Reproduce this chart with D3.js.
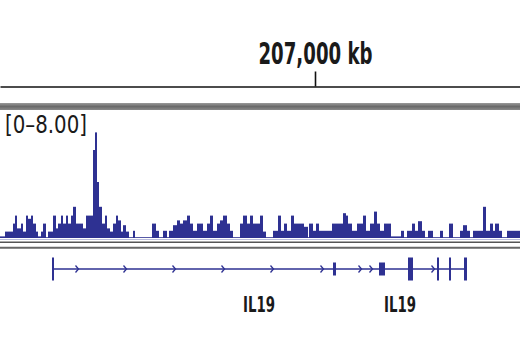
<!DOCTYPE html>
<html>
<head>
<meta charset="utf-8">
<script src="https://cdn.jsdelivr.net/npm/d3@7"></script>
<style>
  body { margin: 0; background: #fff; }
  svg { display: block; }
</style>
</head>
<body>
<svg id="chart"></svg>
<script>
// visible locus (kb on chr1)
const viewRange = [206968.5, 207020.5];
const rulerTicks = [207000];
const dataRange = [0, 8];

// coverage track as bedgraph segments: end position (kb) and signal value
const segEnds = [
  206969.0, 206969.8, 206970.0, 206970.2, 206970.6, 206970.8, 206971.1, 206971.3, 206971.6, 206971.8,
  206972.1, 206972.3, 206972.6, 206972.8, 206973.1, 206973.3, 206973.8, 206974.1, 206974.3, 206974.6,
  206974.8, 206975.1, 206975.3, 206975.6, 206975.8, 206976.1, 206976.8, 206977.1, 206977.8, 206978.0,
  206978.2, 206978.4, 206978.7, 206979.0, 206979.2, 206979.5, 206979.8, 206980.1, 206980.3, 206980.6,
  206980.8, 206981.1, 206981.4, 206981.8, 206982.0, 206983.7, 206984.1, 206984.4, 206984.8, 206985.2,
  206985.4, 206985.8, 206986.2, 206986.5, 206986.8, 206987.2, 206987.5, 206987.8, 206988.2, 206988.8,
  206989.2, 206989.5, 206989.8, 206990.2, 206990.5, 206990.8, 206991.2, 206991.5, 206991.8, 206992.5,
  206992.8, 206993.2, 206993.5, 206993.8, 206994.5,
  206994.8, 206995.1, 206995.8, 206996.3, 206996.6, 206996.9, 206997.2, 206997.6, 206997.9, 206998.9,
  206999.3, 206999.4, 206999.8, 207000.1, 207000.4, 207001.7, 207002.8, 207003.1, 207003.3, 207003.7,
  207004.2, 207004.8, 207005.1, 207005.5, 207005.9, 207006.2, 207006.5, 207006.9, 207007.6, 207008.6,
  207008.9, 207009.2, 207009.7, 207010.0, 207010.3, 207010.7, 207011.0, 207011.3, 207011.8, 207012.5,
  207012.8, 207013.4, 207013.8, 207014.5, 207014.8, 207015.2, 207015.5, 207015.8, 207016.8, 207017.1,
  207017.5, 207017.8, 207018.0, 207018.4, 207018.7, 207019.2, 207020.5
];
const segValues = [
  0.1, 0.4, 0.9, 1.4, 0.6, 0.9, 0.4, 1.4, 1.2, 1.4,
  0.9, 0.4, 0.1, 0.4, 0.9, 0.05, 0.4, 1.4, 0.6, 0.9,
  1.4, 0.9, 1.4, 0.9, 1.4, 1.95, 0.9, 0.6, 1.4, 5.5,
  6.6, 3.5, 1.95, 0.9, 1.4, 0.6, 0.4, 0.9, 1.4, 1.1,
  0.4, 0.8, 0.4, 0.05, 0.45, 0.05, 0.9, 0.45, 0.05, 0.45,
  0.05, 0.45, 0.8, 1.1, 0.9, 1.1, 1.4, 0.9, 0.45, 0.9,
  0.45, 0.9, 1.4, 0.45, 0.9, 1.1, 1.4, 0.9, 0.45, 0.05,
  0.9, 1.4, 0.9, 1.4, 0.9,
  1.4, 0.4, 0.05, 0.45, 1.4, 0.45, 0.9, 0.45, 1.4, 0.9,
  0.7, 0.05, 0.9, 0.45, 0.9, 0.45, 0.9, 1.55, 1.4, 0.9,
  0.45, 0.9, 1.4, 0.45, 0.9, 1.65, 0.9, 0.45, 0.9, 0.1,
  0.45, 0.05, 0.45, 0.9, 0.45, 1.05, 0.45, 0.05, 0.45, 0.05,
  0.45, 0.05, 0.9, 0.05, 0.45, 0.8, 0.45, 0.05, 0.45, 1.95,
  0.45, 0.9, 0.45, 0.9, 0.45, 0.05, 0.45
];

// IL19 gene model
const geneSpan = [206973.7, 207015.2];
const exonStarts = [206973.7, 207001.8, 207006.4, 207009.3, 207012.2, 207013.4, 207014.9];
const exonEnds   = [206973.9, 207002.1, 207007.0, 207009.8, 207012.4, 207013.6, 207015.2];
const exonKinds  = ['cds', 'utr', 'utr', 'cds', 'cds', 'cds', 'cds'];
const strandMarks = [206976.2, 206981.0, 206985.9, 206990.8, 206995.7, 207000.7, 207004.5, 207005.6, 207011.8];
const geneLabels = ['IL19', 'IL19'];
const geneLabelPos = [206994.4, 207008.5];

const width = 520, height = 350;
const blue = '#2e3192';
const condensed = '"Liberation Sans Narrow", "Arial Narrow", "DejaVu Sans Condensed", sans-serif';

const svg = d3.select('#chart')
    .attr('width', width)
    .attr('height', height);

const x = d3.scaleLinear().domain(viewRange).range([0, width]);
const y = d3.scaleLinear().domain(dataRange).range([238, 110]);

// ruler
const ruler = svg.append('g')
    .attr('transform', 'translate(0,86.5)')
    .call(d3.axisTop(x)
        .tickValues(rulerTicks)
        .tickSize(15)
        .tickSizeOuter(0)
        .tickPadding(8)
        .tickFormat(d => d3.format(',')(d) + ' kb'));
ruler.select('.domain').attr('stroke', '#111').attr('stroke-width', 1.6);
ruler.selectAll('.tick line').attr('stroke', '#111').attr('stroke-width', 1.6);
ruler.selectAll('.tick text')
    .attr('fill', '#1a1a1a')
    .style('font-family', condensed)
    .style('font-weight', 'bold')
    .style('font-size', '31px')
    .attr('textLength', 114)
    .attr('lengthAdjust', 'spacingAndGlyphs');

// track separator under ruler
const sepGrad = svg.append('defs').append('linearGradient')
    .attr('id', 'sep').attr('x1', 0).attr('x2', 0).attr('y1', 0).attr('y2', 1);
sepGrad.append('stop').attr('offset', '0%').attr('stop-color', '#9a9a9a');
sepGrad.append('stop').attr('offset', '50%').attr('stop-color', '#6a6a6a');
sepGrad.append('stop').attr('offset', '100%').attr('stop-color', '#8a8a8a');
svg.append('rect')
    .attr('x', 0).attr('y', 103)
    .attr('width', width).attr('height', 7)
    .attr('fill', 'url(#sep)');

// coverage bars
const segs = segEnds.map((e, i) => ({
    start: i === 0 ? viewRange[0] : segEnds[i - 1],
    end: e,
    value: segValues[i]
}));

svg.append('g')
    .selectAll('rect')
    .data(segs)
    .enter().append('rect')
    .attr('x', d => x(d.start))
    .attr('width', d => x(d.end) - x(d.start))
    .attr('y', d => y(d.value))
    .attr('height', d => y(0) - y(d.value))
    .attr('fill', blue);

svg.append('text')
    .attr('x', 5)
    .attr('y', 133)
    .attr('fill', '#1a1a1a')
    .style('font-family', condensed)
    .style('font-size', '25px')
    .attr('textLength', 82)
    .attr('lengthAdjust', 'spacingAndGlyphs')
    .text('[' + dataRange[0] + '\u2013' + dataRange[1].toFixed(2) + ']');

// lines below the data track
svg.append('line')
    .attr('x1', 0).attr('x2', width).attr('y1', 239.5).attr('y2', 239.5)
    .attr('stroke', '#b9bcdc').attr('stroke-width', 1);
svg.append('line')
    .attr('x1', 0).attr('x2', width).attr('y1', 242.2).attr('y2', 242.2)
    .attr('stroke', '#555').attr('stroke-width', 1.5);
svg.append('line')
    .attr('x1', 0).attr('x2', width).attr('y1', 247.8).attr('y2', 247.8)
    .attr('stroke', '#666').attr('stroke-width', 2);

// gene track
const geneY = 269;
const gene = svg.append('g');
gene.append('line')
    .attr('x1', x(geneSpan[0])).attr('x2', x(geneSpan[1]))
    .attr('y1', geneY).attr('y2', geneY)
    .attr('stroke', blue).attr('stroke-width', 1.5);

gene.selectAll('path.mark')
    .data(strandMarks)
    .enter().append('path')
    .attr('class', 'mark')
    .attr('d', d => 'M' + (x(d) - 1.5) + ',' + (geneY - 3.5) + 'L' + (x(d) + 1.5) + ',' + geneY + 'L' + (x(d) - 1.5) + ',' + (geneY + 3.5))
    .attr('fill', 'none')
    .attr('stroke', blue)
    .attr('stroke-width', 1.3);

const exons = exonStarts.map((s, i) => ({start: s, end: exonEnds[i], kind: exonKinds[i]}));
gene.selectAll('rect')
    .data(exons)
    .enter().append('rect')
    .attr('x', d => x(d.start))
    .attr('width', d => Math.max(2, x(d.end) - x(d.start)))
    .attr('y', d => d.kind === 'cds' ? geneY - 11.5 : geneY - 6.5)
    .attr('height', d => d.kind === 'cds' ? 23 : 13)
    .attr('fill', blue);

gene.selectAll('text')
    .data(geneLabels)
    .enter().append('text')
    .attr('x', (d, i) => x(geneLabelPos[i]))
    .attr('y', 312)
    .attr('text-anchor', 'middle')
    .attr('fill', '#1a1a1a')
    .style('font-family', condensed)
    .style('font-weight', 'bold')
    .style('font-size', '21px')
    .attr('textLength', 32)
    .attr('lengthAdjust', 'spacingAndGlyphs')
    .text(d => d);
</script>
</body>
</html>
